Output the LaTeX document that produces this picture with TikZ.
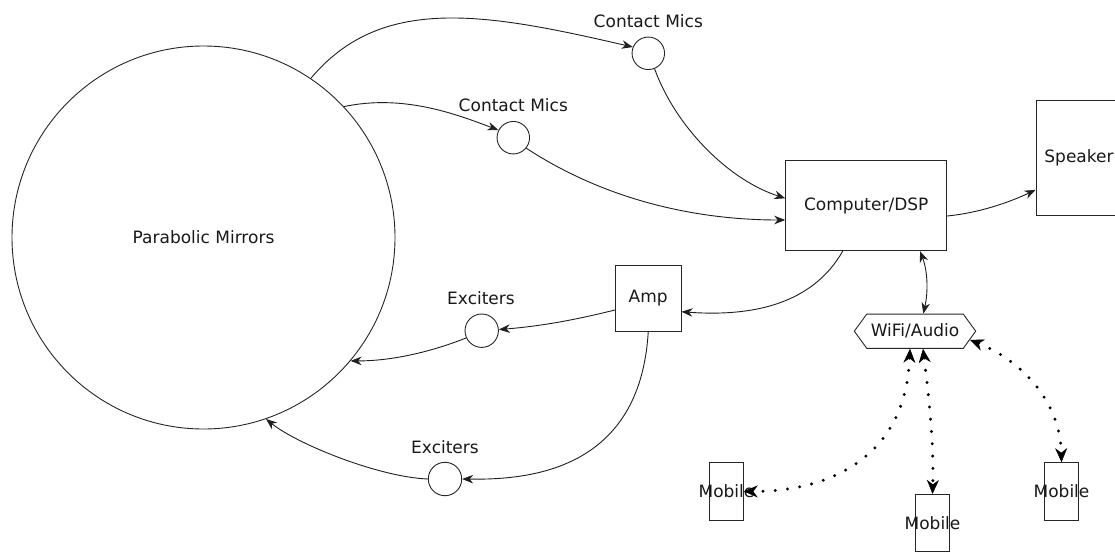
\documentclass[tikz,border=0pt]{standalone}
\usepackage{fontspec}
\setmainfont{DejaVu Sans}
\usetikzlibrary{arrows.meta,shapes.symbols}
\begin{document}
\begin{tikzpicture}[x=1pt,y=-1pt,
  font=\fontsize{17}{20}\selectfont,
  every node/.style={text=black!90},
  box/.style={draw=black!85, line width=0.9pt, rectangle, inner sep=0},
  mic/.style={draw=black!85, line width=0.9pt, circle, minimum size=32.5, inner sep=0},
  exc/.style={draw=black!85, line width=0.9pt, circle, minimum size=33.4, inner sep=0},
  mob/.style={draw=black!85, line width=0.9pt, rectangle, minimum width=33.6, minimum height=57.3, inner sep=0},
  lbl/.style={inner sep=0},
  conn/.style={draw=black!88, line width=0.9pt, -{Stealth[length=11pt,width=8.5pt,inset=3.5pt]}},
  biconn/.style={draw=black!88, line width=0.9pt, {Stealth[length=11pt,width=8.5pt,inset=3.5pt]}-{Stealth[length=11pt,width=8.5pt,inset=3.5pt]}},
  dots/.style={draw=black, line width=3.3pt, line cap=round, dash pattern=on 0pt off 12.3pt,
    {Stealth[length=14pt,width=12pt,inset=4.5pt,line width=0.5pt]}-{Stealth[length=14pt,width=12pt,inset=4.5pt,line width=0.5pt]}}
]
\path[use as bounding box, fill=white] (0,0) rectangle (1115,551);

% nodes
\node[draw=black!85, line width=0.9pt, circle, minimum size=383, inner sep=0] (pm) at (203.5,237.5) {Parabolic Mirrors};
\node[mic] (cm1) at (648.3,53.3) {};
\node[lbl] (cm1l) at (648.3,21) {Contact Mics};
\node[mic] (cm2) at (513.3,137.7) {};
\node[lbl] (cm2l) at (513.3,105) {Contact Mics};
\node[box, minimum width=161, minimum height=90] (dsp) at (866.2,205.7) {Computer/DSP};
\node[box, minimum width=86, minimum height=114.3] (spk) at (1079,157.9) {Speaker};
\node[box, minimum width=65.7, minimum height=66.7] (amp) at (648.2,298.3) {Amp};
\node[exc] (ex1) at (481.7,330.7) {};
\node[lbl] (ex1l) at (481,298.3) {Exciters};
\node[exc] (ex2) at (445,479) {};
\node[lbl] (ex2l) at (445,446.7) {Exciters};
\node[draw=black!85, line width=0.9pt, signal, signal to=west and east, signal pointer angle=108,
      minimum width=121.4, minimum height=34.3, inner sep=0] (wifi) at (915,331.2) {WiFi/Audio};
\node[mob, label={center:Mobile}] (mob1) at (726.5,491.3) {};
\node[mob, label={center:Mobile}] (mob2) at (932.5,523) {};
\node[mob, label={center:Mobile}] (mob3) at (1061.5,491.3) {};

% connectors
\draw[conn] (pm.56) .. controls (381.4,-5.9) and (485.6,13) .. (cm1.158);
\draw[conn] (pm.43) .. controls (402.7,94.2) and (454.6,113.5) .. (cm2.153);
\draw[conn] (cm1.-68) .. controls (675.5,126.4) and (727.9,179.8) .. ([yshift=7.4pt]dsp.west);
\draw[conn] (cm2.-39) .. controls (620.6,209.9) and (720,220) .. ([yshift=-14.3pt]dsp.west);
\draw[conn] ([yshift=-10.3pt]dsp.east) .. controls (978.3,213) and (1008.5,202.7) .. ([yshift=-32pt]spk.west);
\draw[conn] ([xshift=-23.5pt]dsp.south) .. controls (812.7,303.7) and (753.3,317) .. ([yshift=-13.4pt]amp.east);
\draw[biconn] ([xshift=53.8pt]dsp.south) .. controls (928,272) and (928,293) .. ([xshift=8.3pt]wifi.north);
\draw[conn] ([yshift=-11.7pt]amp.west) .. controls (575,320) and (540,326.3) .. (ex1.4);
\draw[conn] (ex1.-155) .. controls (435,350.3) and (395,361) .. (pm.-40);
\draw[conn] (amp.south) .. controls (640,470) and (530,480) .. (ex2.0);
\draw[conn] (ex2.180) .. controls (378.3,477) and (297,444) .. (pm.-71);
\draw[dots] ([xshift=-5pt]wifi.south) .. controls (905,470) and (810,492) .. (mob1.east);
\draw[dots] ([xshift=8pt]wifi.south) .. controls (928,390) and (934,440) .. (mob2.north);
\draw[dots] (wifi.-9) .. controls (1020,360) and (1060,400) .. (mob3.north);
\end{tikzpicture}
\end{document}
